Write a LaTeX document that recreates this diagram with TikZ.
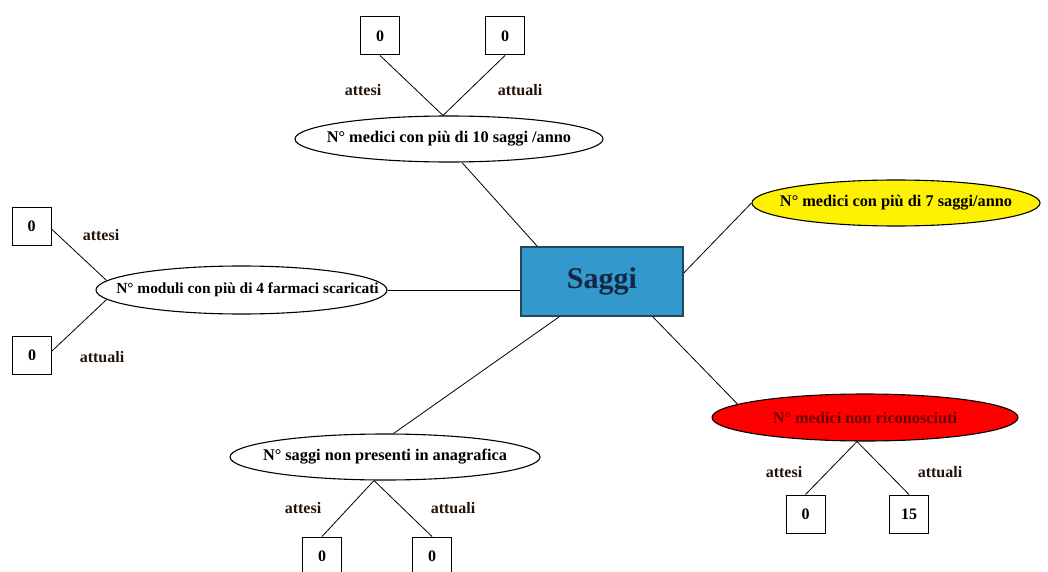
\documentclass[tikz,border=0pt]{standalone}
\usepackage{fontspec}
\setmainfont{Liberation Serif}
\usetikzlibrary{shapes.geometric}
\definecolor{boxblue}{RGB}{51,153,204}
\definecolor{boxedge}{RGB}{40,70,90}
\definecolor{saggitext}{RGB}{20,40,70}
\definecolor{labeltext}{RGB}{35,20,10}
\definecolor{darkred}{RGB}{110,0,0}
\newcommand{\metrictext}[1]{\makebox[0pt]{#1}}
\tikzset{
  hub/.style={draw=boxedge, line width=1.5pt, fill=boxblue, minimum width=162pt,
    minimum height=69pt, inner sep=0pt, text=saggitext,
    font=\bfseries\fontsize{30}{30}\selectfont},
  metric/.style={ellipse, draw=black, line width=1.1pt, fill=white, inner sep=0pt,
    minimum height=46pt, font=\bfseries\fontsize{16.3}{16.3}\selectfont},
  valbox/.style={draw=black, line width=1pt, fill=white, minimum width=39pt,
    minimum height=38pt, inner sep=0pt, font=\bfseries\fontsize{16}{16}\selectfont},
  tag/.style={inner sep=0pt, text=labeltext, font=\bfseries\fontsize{16}{16}\selectfont},
  link/.style={draw=black, line width=0.8pt},
}
\begin{document}
\begin{tikzpicture}[x=1pt, y=-1pt]
  \useasboundingbox (0,0) rectangle (1048,572);
  \clip (0,0) rectangle (1048,572);
  \fill[white] (0,0) rectangle (1048,572);

  % central hub
  \node[hub] (S) at (602,281.5) {Saggi};

  % metrics around the hub
  \node[metric, minimum width=308pt] (E1) at (449,139) {\metrictext{N° medici con più di 10 saggi /anno}};
  \node[metric, minimum width=291pt, minimum height=48pt,
        font=\bfseries\fontsize{15.4}{15.4}\selectfont] (E2) at (241.5,290)
        {\metrictext{\hspace{12pt}N° moduli con più di 4 farmaci scaricati}};
  \node[metric, minimum width=288pt, fill=yellow] (E3) at (896,203) {\metrictext{N° medici con più di 7 saggi/anno}};
  \node[metric, minimum width=306pt, minimum height=47pt, fill=red, text=darkred] (E4) at (865,417.5) {\metrictext{N° medici non riconosciuti}};
  \node[metric, minimum width=310pt] (E5) at (385,457) {\metrictext{N° saggi non presenti in anagrafica}};

  % expected / current values
  \node[valbox] (B1) at (380,36) {0};
  \node[valbox] (B2) at (505,36) {0};
  \node[valbox] (L1) at (31.5,226) {0};
  \node[valbox] (L2) at (32,355) {0};
  \node[valbox] (R1) at (805.5,514) {0};
  \node[valbox] (R2) at (909,514) {15};
  \node[valbox] (D1) at (322,556) {0};
  \node[valbox] (D2) at (432,556) {0};

  % value captions
  \node[tag] (tB1) at (363,90) {attesi};
  \node[tag] (tB2) at (520,90) {attuali};
  \node[tag] (tL1) at (101,235) {attesi};
  \node[tag] (tL2) at (102,357) {attuali};
  \node[tag] (tR1) at (784,472) {attesi};
  \node[tag] (tR2) at (940,472) {attuali};
  \node[tag] (tD1) at (303,508) {attesi};
  \node[tag] (tD2) at (453,508) {attuali};

  % hub connectors
  \draw[link] ([xshift=13pt]E1.south) -- ([xshift=17pt]S.north west);
  \draw[link] (E2.east) -- (E2.east -| S.west);
  \draw[link] ([yshift=8.5pt]S.east) -- (E3.west);
  \draw[link] ([xshift=-31pt]S.south east) -- (E4.174);
  \draw[link] ([xshift=39pt]S.south west) -- (E5.70);

  % value connectors
  \draw[link] (B1.south) -- ([xshift=-6pt]E1.north);
  \draw[link] (B2.south) -- ([xshift=-6pt]E1.north);
  \draw[link] ([yshift=-3pt]L1.east) -- (E2.176);
  \draw[link] ([yshift=4pt]L2.east) -- (E2.184);
  \draw[link] ([xshift=-8pt]E4.south) -- (R1.north);
  \draw[link] ([xshift=-8pt]E4.south) -- (R2.north);
  \draw[link] ([xshift=-11pt]E5.south) -- (D1.north);
  \draw[link] ([xshift=-11pt]E5.south) -- (D2.north);
\end{tikzpicture}
\end{document}
